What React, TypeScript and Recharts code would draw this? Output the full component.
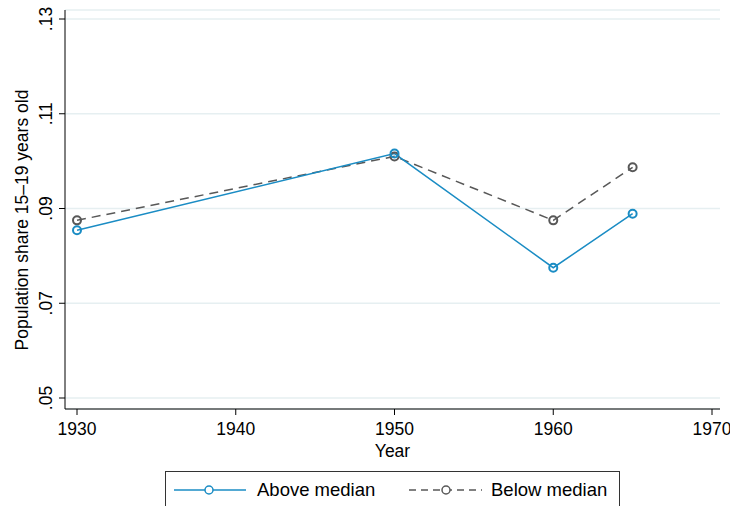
import { LineChart, Line, XAxis, YAxis, CartesianGrid, Legend } from "recharts";

const years = [1930, 1950, 1960, 1965];
const aboveMedian = [0.0854, 0.1016, 0.0775, 0.0889];
const belowMedian = [0.0875, 0.1010, 0.0875, 0.0987];
const xTicks = [1930, 1940, 1950, 1960, 1970];
const yTicks = [0.05, 0.07, 0.09, 0.11, 0.13];

const BLUE = "#1a8cc4";
const GREY = "#585858";
const FONT = "'Liberation Sans', Arial, Helvetica, sans-serif";

const data = years.map((y, i) => ({ year: y, above: aboveMedian[i], below: belowMedian[i] }));

const fmtY = (v: number) => v.toFixed(2).replace(/^0/, "");

function YTick({ x, y, payload }: any) {
  return (
    <text
      x={x - 5}
      y={y}
      transform={`rotate(-90, ${x - 5}, ${y})`}
      textAnchor="middle"
      fontSize={17.5}
      fontFamily={FONT}
      fill="#000"
    >
      {fmtY(payload.value)}
    </text>
  );
}

function YLabel() {
  return (
    <text
      x={28}
      y={220}
      transform="rotate(-90, 28, 220)"
      textAnchor="middle"
      fontSize={17.5}
      fontFamily={FONT}
      fill="#000"
    >
      Population share 15–19 years old
    </text>
  );
}

function Dot(color: string) {
  return ({ cx, cy, index }: any) => (
    <circle key={index} cx={cx} cy={cy} r={4} fill="none" stroke={color} strokeWidth={2} />
  );
}

function LegendBox() {
  return (
    <div
      style={{
        position: "relative",
        width: 455,
        height: 36,
        border: "1px solid #333",
        boxSizing: "border-box",
        background: "#fff",
      }}
    >
      <svg width={455} height={36} style={{ position: "absolute", left: 0, top: 0 }}>
        <line x1={8} x2={80} y1={18} y2={18} stroke={BLUE} strokeWidth={1.5} />
        <circle cx={43} cy={18} r={4} fill="#fff" stroke={BLUE} strokeWidth={1.5} />
        <line x1={243} x2={316} y1={18} y2={18} stroke={GREY} strokeWidth={1.5} strokeDasharray="7 5" />
        <circle cx={280} cy={18} r={4} fill="#fff" stroke={GREY} strokeWidth={1.5} />
        <text x={91} y={24} fontSize={18.5} fontFamily={FONT} fill="#000">Above median</text>
        <text x={325} y={24} fontSize={18.5} fontFamily={FONT} fill="#000">Below median</text>
      </svg>
    </div>
  );
}

export default function App() {
  return (
    <div style={{ position: "absolute", left: 0, top: 0, width: 730, height: 506, background: "#fff" }}>
      <LineChart width={730} height={506} data={data} margin={{ top: 10, right: 10, left: 0, bottom: 0 }}>
        <CartesianGrid horizontal vertical={false} stroke="#e6eff1" strokeWidth={1.5} />
        <XAxis
          dataKey="year"
          type="number"
          domain={[1930, 1970]}
          ticks={xTicks}
          padding={{ left: 12, right: 8 }}
          height={62}
          stroke="#000"
          tickSize={6}
          tickMargin={8}
          tick={{ fontSize: 17.5, fontFamily: FONT, fill: "#000" }}
          label={{ value: "Year", position: "insideTop", offset: 36, fontSize: 17.5, fontFamily: FONT, fill: "#000" }}
        />
        <YAxis
          type="number"
          domain={[0.05, 0.13]}
          ticks={yTicks}
          padding={{ top: 9, bottom: 11 }}
          width={65}
          stroke="#000"
          tickSize={6}
          tick={<YTick />}
          label={<YLabel />}
        />
        <Legend
          verticalAlign="bottom"
          height={35}
          wrapperStyle={{ left: 165, width: 455, bottom: "auto", top: 471 }}
          content={() => <LegendBox />}
        />
        <Line
          dataKey="below"
          stroke={GREY}
          strokeWidth={1.5}
          strokeDasharray="9 6"
          dot={Dot(GREY)}
          activeDot={false}
          isAnimationActive={false}
        />
        <Line
          dataKey="above"
          stroke={BLUE}
          strokeWidth={1.5}
          dot={Dot(BLUE)}
          activeDot={false}
          isAnimationActive={false}
        />
      </LineChart>
    </div>
  );
}
